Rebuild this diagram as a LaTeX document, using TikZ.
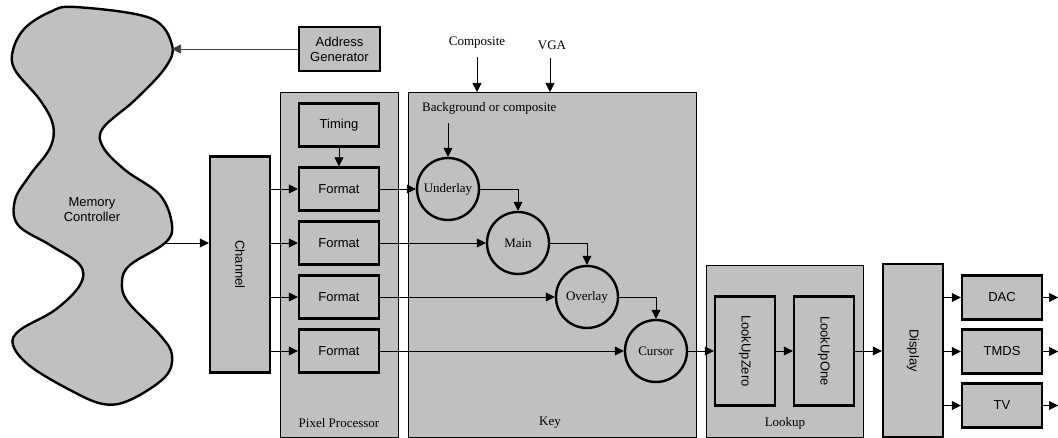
\documentclass[tikz,border=0pt]{standalone}
\usepackage{fontspec}
\setmainfont{Liberation Serif}
\setsansfont{Liberation Sans}
\usepackage{tikz}
\usetikzlibrary{calc,positioning,arrows.meta}
\definecolor{boxgray}{RGB}{192,192,192}
\tikzset{
	blk/.style={draw,line width=2.4pt,fill=boxgray,inner sep=1pt,
		font=\fontsize{13}{15}\selectfont\sffamily},
	panel/.style={draw,line width=0.7pt,fill=boxgray,anchor=north west},
	unit/.style={circle,draw,line width=2.4pt,fill=boxgray,minimum size=62,inner sep=0pt,
		font=\fontsize{13}{15}\selectfont},
	caption/.style={font=\fontsize{13}{15}\selectfont,inner sep=0pt},
	arr/.style={line width=0.7pt,-{Triangle[length=9pt,width=9pt]}}
}
\begin{document}
\begin{tikzpicture}[x=1pt,y=-1pt]
		\useasboundingbox (0,0) rectangle (1058,438);
		\begin{scope}
			% panels
			\node[panel,minimum width=118,minimum height=345] (pp) at (280,92) {};
			\node[panel,minimum width=288,minimum height=345] (key) at (408,92) {};
			\node[panel,minimum width=157,minimum height=172] (lup) at (706,265) {};
			\node[caption] at (339,423) {Pixel Processor};
			\node[caption] at (550,423) {Key};
			\node[caption] at (785,423) {Lookup};

			% memory
			\draw[line width=2.4pt,fill=boxgray] plot[smooth cycle,tension=0.6] coordinates {
				(75,7) (150,18) (172,45) (165,68) (135,100) (103,128) (103,147) (125,170)
				(160,195) (172,225) (165,243) (130,265) (122,282) (128,302) (160,335)
				(172,355) (165,377) (130,400) (103,404) (70,390) (30,366) (13,345) (20,330)
				(55,310) (80,285) (80,265) (50,245) (18,225) (15,200) (30,175) (50,148)
				(53,125) (40,100) (15,70) (13,50) (25,28) (50,12)};
			\node[align=center,font=\fontsize{13}{15}\selectfont\sffamily] (mem) at (92,210) {Memory\\Controller};
			\coordinate (memin) at (172,49);
			\coordinate (memout) at (166,243);
			\node[blk,minimum width=81,minimum height=44,align=center] (agen) at (339.5,49) {Address\\Generator};
			\draw[arr,draw=black!75] (agen.west) -- (memin);

			% channel and pixel processor
			\node[blk,minimum width=60,minimum height=216] (chan) at (240,264.5) {};
			\node[rotate=-90,font=\fontsize{13}{15}\selectfont\sffamily] at (chan) {Channel};
			\draw[arr] (memout) -- (memout -| chan.west);
			\node[blk,minimum width=80,minimum height=43] (tim) at (339,125) {Timing};
			\foreach \i/\y in {1/189,2/243,3/297,4/351}{
				\node[blk,minimum width=80,minimum height=43] (fmt\i) at (339,\y) {Format};
				\draw[arr] (chan.east |- fmt\i) -- (fmt\i.west);
			}
			\draw[arr] (tim.south) -- (fmt1.north);

			% key
			\node[caption] (comp) at (477,43) {Composite};
			\node[caption] (vga) at (552,45) {VGA};
			\draw[arr] ([yshift=-8pt]comp.south) -- (comp.south |- key.north);
			\draw[arr] ([yshift=-8pt,xshift=-2pt]vga.south) -- ([xshift=-2pt]vga.south |- key.north);
			\node[caption,anchor=west] (bg) at (422,108) {Background or composite};
			\node[unit] (und) at (448,189) {Underlay};
			\node[unit] (main) at (518,243) {Main};
			\node[unit] (ovl) at (587,297) {Overlay};
			\node[unit] (cur) at (656,351) {Cursor};
			\draw[arr] ([yshift=-9pt]bg.south -| und) -- (und.north);
			\draw[arr] (und.east) -| (main.north);
			\draw[arr] (main.east) -| (ovl.north);
			\draw[arr] (ovl.east) -| (cur.north);
			\draw[arr] (fmt1.east) -- (und.west);
			\draw[arr] (fmt2.east) -- (main.west);
			\draw[arr] (fmt3.east) -- (ovl.west);
			\draw[arr] (fmt4.east) -- (cur.west);

			% lookup and display
			\node[blk,minimum width=60,minimum height=109] (lz) at (745,351) {};
			\node[rotate=-90,font=\fontsize{13}{15}\selectfont\sffamily] at (lz) {LookUpZero};
			\node[blk,minimum width=60,minimum height=109] (lo) at (824,351) {};
			\node[rotate=-90,font=\fontsize{13}{15}\selectfont\sffamily] at (lo) {LookUpOne};
			\node[blk,minimum width=60,minimum height=173] (disp) at (913,350.5) {};
			\node[rotate=-90,font=\fontsize{13}{15}\selectfont\sffamily] at (disp) {Display};
			\draw[arr] (cur.east) -- (cur.east -| lz.west);
			\draw[arr] (lz.east) -- (lo.west);
			\draw[arr] (lo.east) -- (lo.east -| disp.west);
			\foreach \n/\t/\y in {dac/DAC/297.5,tmds/TMDS/351.5,tv/TV/405.5}{
				\node[blk,minimum width=80,minimum height=44] (\n) at (1002,\y) {\t};
				\coordinate (\n out) at (1058,\y);
				\draw[arr] (disp.east |- \n) -- (\n.west);
				\draw[arr] (\n.east) -- (\n out);
			}
		\end{scope}
	\end{tikzpicture}
\end{document}
